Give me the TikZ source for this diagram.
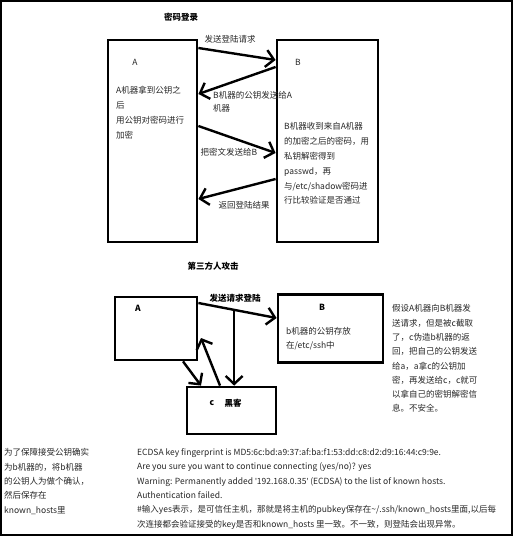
\documentclass[tikz,border=0pt]{standalone}
\usepackage{fontspec}
\setmainfont{Noto Sans CJK SC}[Ligatures=ResetAll]
\newfontfamily\qf{Noto Sans}[Ligatures=ResetAll]
\newcommand\sq{{\qf\symbol{39}}}
\usetikzlibrary{arrows.meta}
\begin{document}
\begin{tikzpicture}[x=1pt,y=-1pt,
  box/.style={draw, line width=2.8pt, inner sep=0pt},
  conn/.style={line width=2.4pt, -{Straight Barb[length=8pt,width=17pt]}},
  txt/.style={inner sep=0pt, font=\fontsize{8.5}{15}\selectfont, align=left, text=black!85},
  txtb/.style={inner sep=0pt, font=\fontsize{8.5}{15}\selectfont\bfseries, text=black},
  para/.style={txt, anchor=north west, font=\fontsize{8.5}{14.3}\selectfont}
]
\useasboundingbox (0,0) rectangle (514,538);
\draw[line width=1.5pt] (1,1) rectangle (512,535);

% ---- top: password login
\node[txtb] (t1) at (181,17) {密码登录};
\node[box, minimum width=89, minimum height=202] (A) at (152.5,141) {};
\node[box, minimum width=101, minimum height=202] (B) at (327.5,141) {};
\node[txt] (Al) at (135,62) {A};
\node[txt] (Bl) at (298,62) {B};
\node[txt, anchor=north west] (At) at (116,85.5) {A机器拿到公钥之\\后\\用公钥对密码进行\\加密};
\node[txt, anchor=north west, font=\fontsize{8.5}{14.8}\selectfont] (Bt) at (284,122.5) {B机器收到来自A机器\\的加密之后的密码，用\\私钥解密得到\\passwd，再\\与/etc/shadow密码进\\行比较验证是否通过};

\draw[conn] (A.east |- 0,48) -- (B.west |- 0,60);
\node[txt] (l1) at (230,39) {发送登陆请求};
\draw[conn] (B.west |- 0,67) -- (A.east |- 0,94);
\node[txt, anchor=north west, font=\fontsize{8.5}{12.3}\selectfont] (l2) at (213,91.5) {B机器的公钥发送给A\\机器};
\draw[conn] (A.east |- 0,126) -- (B.west |- 0,153);
\node[txt] (l3) at (229,152) {把密文发送给B};
\draw[conn] (B.west |- 0,179) -- (A.east |- 0,199);
\node[txt] (l4) at (244,205) {返回登陆结果};

% ---- bottom: third party attack
\node[txtb] (t2) at (213,266) {第三方人攻击};
\node[box, minimum width=82, minimum height=63] (A2) at (156,328.5) {};
\node[box, minimum width=105, minimum height=68] (B2) at (330.5,328.5) {};
\node[box, minimum width=89, minimum height=47] (C) at (231.5,410.5) {};
\node[txtb] (A2l) at (138,308) {A};
\node[txtb] (B2l) at (322,307) {B};
\node[txtb] (Cl) at (212,403) {c};
\node[txtb] (Cl2) at (233,403) {黑客};
\node[txt, anchor=north west, font=\fontsize{8.5}{13.3}\selectfont] (B2t) at (286,327.5) {b机器的公钥存放\\在/etc/ssh中};

\draw[conn] (A2.east |- 0,303) -- coordinate[pos=0.457] (m) (B2.west |- 0,318);
\node[txtb] (l5) at (235,298) {发送请求登陆};
\draw[conn] (m) -- (m |- C.north);
\draw[conn] (A2.south -| 183,0) -- (C.north -| 201,0);
\coordinate (tipA) at (201,338);
\draw[conn] (C.north -| 220,0) -- (tipA);

\node[para] (side) at (392,304.5) {假设A机器向B机器发\\送请求，但是被c截取\\了，c伪造b机器的返\\回，把自己的公钥发送\\给a，a拿c的公钥加\\密，再发送给c，c就可\\以拿自己的密钥解密信\\息。不安全。};

\node[para] (note) at (4,448.5) {为了保障接受公钥确实\\为b机器的，将b机器\\的公钥人为做个确认，\\然后保存在\\known\_hosts里};

\node[para] (ssh) at (137,448.5) {ECDSA key fingerprint is MD5:6c:bd:a9:37:af:ba:f1:53:dd:c8:d2:d9:16:44:c9:9e.\\Are you sure you want to continue connecting (yes/no)? yes\\Warning: Permanently added \sq192.168.0.35\sq{} (ECDSA) to the list of known hosts.\\Authentication failed.\\\#输入yes表示，是可信任主机，那就是将主机的pubkey保存在\textasciitilde/.ssh/known\_hosts里面,以后每\\次连接都会验证接受的key是否和known\_hosts 里一致。不一致，则登陆会出现异常。};
\end{tikzpicture}
\end{document}
